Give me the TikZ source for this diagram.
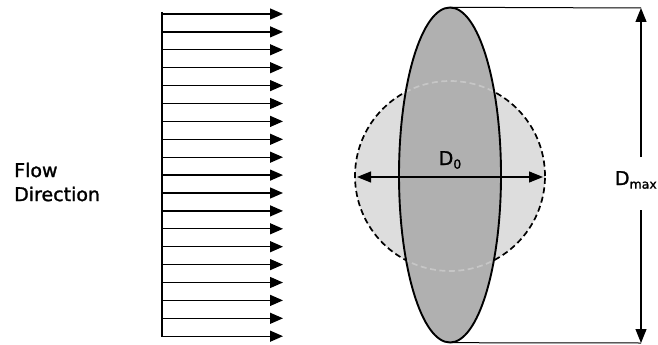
\documentclass[tikz,border=0pt]{standalone}
\usepackage{fontspec}
\setmainfont[AutoFakeBold=1.4]{DejaVu Sans}
\usepackage{tikz}
\usetikzlibrary{arrows.meta, positioning, shapes.geometric}

\newcommand{\lowidx}[1]{\raisebox{-0.35ex}{\fontsize{12.5}{13}\selectfont #1}}

\begin{document}
\begin{tikzpicture}[
    x=1pt, y=-1pt,
    lbl/.style={font=\fontsize{19}{24}\selectfont\bfseries, inner sep=0},
    flow/.style={-{Triangle[length=13pt, width=11pt]}, line width=1.3pt},
    dim/.style={-{Triangle[length=14pt, width=11pt]}, line width=1.2pt},
    ext/.style={line width=1pt},
    orig/.style={circle, minimum size=190pt, inner sep=0, fill=gray!27},
    drop/.style={ellipse, minimum width=102pt, minimum height=335pt, inner sep=0},
    dashline/.style={dash pattern=on 6pt off 3.5pt, line width=1.7pt},
  ]
    \useasboundingbox (0,0) rectangle (658,345);

    % flow profile
    \coordinate (wtop) at (162,12);
    \coordinate (wbot) at (162,337);
    \draw[line width=2.2pt] (wtop) -- (wbot);
    \foreach \i in {0,...,18} {
      \coordinate (s\i) at (162,{14+17.9*\i});
      \coordinate (e\i) at (283,{14+17.9*\i});
      \draw[flow] (s\i) -- (e\i);
    }
    \node[lbl, anchor=west, align=left] (flowlbl) at (14,182) {Flow\\Direction};

    % original and stretched drop
    \node[orig, draw, dashline] (circ) at (450,176) {};
    \node[drop, fill=gray!62] (ell) at (450,175) {};
    \begin{scope}
      \clip (450,175) ellipse [x radius=51pt, y radius=167.5pt];
      \node[orig, fill=none, draw=gray!45, dashline] at (450,176) {};
    \end{scope}
    \node[drop, draw, line width=1.9pt] at (450,175) {};

    % D0
    \coordinate (dl) at (357,177);
    \coordinate (dr) at (543,177);
    \draw[dim, {Triangle[length=14pt, width=11pt]}-{Triangle[length=14pt, width=11pt]}] (dl) -- (dr);
    \node[lbl, anchor=base] (d0) at (450,165) {D\lowidx{0}};

    % Dmax
    \coordinate (dtop) at (641,8);
    \coordinate (dbot) at (641,343);
    \coordinate (dup) at (641,157);
    \coordinate (dlow) at (641,210);
    \draw[ext] (ell.north) -- (dtop);
    \draw[ext] (ell.south) -- (dbot);
    \draw[dim] (dup) -- (dtop);
    \draw[dim] (dlow) -- (dbot);
    \node[lbl, anchor=base east] (dmax) at (657,185) {D\lowidx{max}};
\end{tikzpicture}
\end{document}
